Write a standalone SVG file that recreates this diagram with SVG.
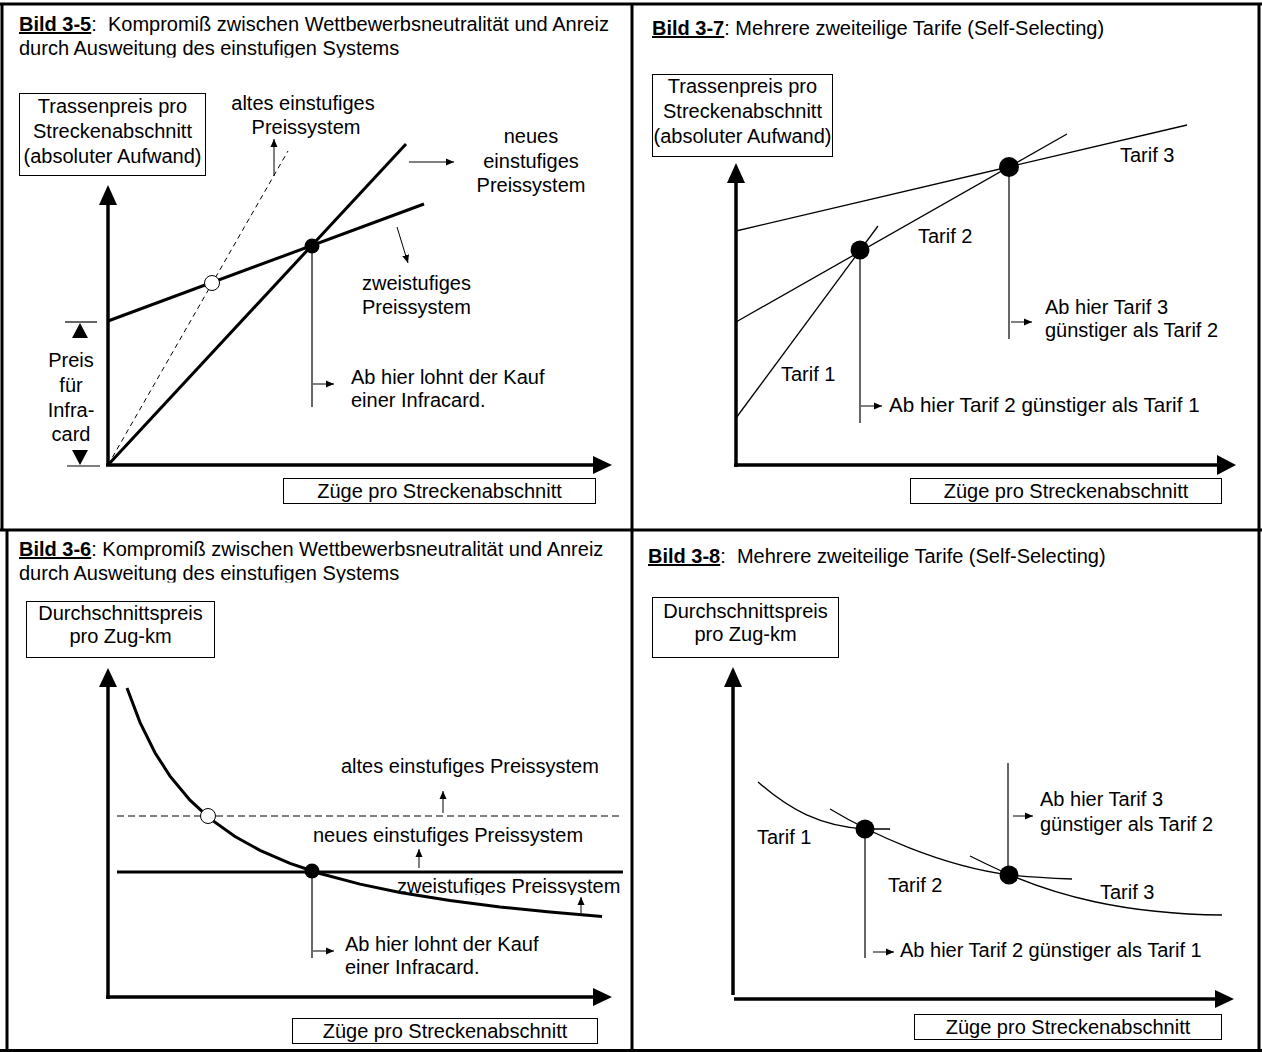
<svg xmlns="http://www.w3.org/2000/svg" width="1262" height="1052" viewBox="0 0 1262 1052">
<style>
.t{font-family:"Liberation Sans",Arial,sans-serif;font-size:20px;fill:#000;white-space:pre}
.c{text-anchor:middle}
.b{font-weight:bold;text-decoration:underline}
.frame{stroke:#000;stroke-width:3;fill:none}
.box{fill:#fff;stroke:#000;stroke-width:1}
.axis{stroke:#000;stroke-width:3.5;fill:none}
.thick{stroke:#000;stroke-width:3;fill:none}
.thin{stroke:#000;stroke-width:1.3;fill:none}
.lead{stroke:#000;stroke-width:1.2;fill:none}
.ptr{stroke:#000;stroke-width:1;fill:none;marker-end:url(#sa)}
.dash{stroke:#000;stroke-width:1;stroke-dasharray:5 4;fill:none}
.gdash{stroke:#555;stroke-width:1.4;stroke-dasharray:7 4;fill:none}
.dot{fill:#000}
.odot{fill:#fff;stroke:#000;stroke-width:1}
</style>
<defs>
<marker id="sa" markerUnits="userSpaceOnUse" markerWidth="9" markerHeight="8" refX="8" refY="4" orient="auto">
<path d="M0,0.5 L8,4 L0,7.5 z" fill="#000"/>
</marker>
<clipPath id="cl1"><rect x="0" y="0" width="632" height="57.5"/></clipPath>
<clipPath id="cl3"><rect x="0" y="530" width="632" height="52.5"/></clipPath>
<clipPath id="cl3b"><rect x="300" y="860" width="330" height="35"/></clipPath>
</defs>
<rect width="1262" height="1052" fill="#fff"/>

<g id="frame">
<line class="frame" x1="0" y1="4" x2="1262" y2="4"/>
<line class="frame" x1="2" y1="4" x2="2" y2="530"/>
<line class="frame" x1="632" y1="4" x2="632" y2="1052"/>
<line class="frame" x1="1259" y1="4" x2="1259" y2="1052"/>
<line class="frame" x1="0" y1="530" x2="1262" y2="530"/>
<line class="frame" x1="7" y1="530" x2="7" y2="1052"/>
<line class="frame" x1="0" y1="1050.5" x2="1262" y2="1050.5"/>
</g>

<!-- Panel Bild 3-5 -->
<g id="panel-3-5">
<g id="title-3-5" clip-path="url(#cl1)">
<text class="t" x="19" y="31"><tspan class="b">Bild 3-5</tspan>:  Kompromiß zwischen Wettbewerbsneutralität und Anreiz</text>
<text class="t" x="19" y="55">durch Ausweitung des einstufigen Systems</text>
</g>
<g id="ylabel-3-5">
<rect class="box" x="19.5" y="93.5" width="186" height="82"/>
<text class="t c" x="112.5" y="113">Trassenpreis pro</text>
<text class="t c" x="112.5" y="138">Streckenabschnitt</text>
<text class="t c" x="112.5" y="163">(absoluter Aufwand)</text>
</g>
<g id="axes-3-5">
<line class="axis" x1="108" y1="466" x2="108" y2="200"/>
<polygon points="108,185 99,205 117,205"/>
<line class="axis" x1="106" y1="465" x2="595" y2="465"/>
<polygon points="612,465 593,456 593,474"/>
</g>
<g id="xlabel-3-5">
<rect class="box" x="283.5" y="478.5" width="312" height="25"/>
<text class="t c" x="439.5" y="498">Züge pro Streckenabschnitt</text>
</g>
<g id="curves-3-5">
<line class="dash" x1="108" y1="465" x2="288" y2="151"/>
<line class="thick" x1="108" y1="465" x2="406" y2="144"/>
<line class="thick" x1="108" y1="321" x2="424" y2="204"/>
<line class="lead" x1="312" y1="246" x2="312" y2="407"/>
<circle class="odot" cx="212" cy="283" r="7.5"/>
<circle class="dot" cx="312" cy="246" r="7.5"/>
</g>
<g id="bracket-3-5">
<line class="lead" x1="65" y1="322" x2="97" y2="322"/>
<polygon points="80,323 72,338 88,338"/>
<line class="lead" x1="67" y1="466" x2="100" y2="466"/>
<polygon points="80,465 72,450 88,450"/>
<text class="t c" x="71" y="367">Preis</text>
<text class="t c" x="71" y="392">für</text>
<text class="t c" x="71" y="417">Infra-</text>
<text class="t c" x="71" y="441">card</text>
</g>
<g id="labels-3-5">
<text class="t c" x="303" y="110">altes einstufiges</text>
<text class="t c" x="306" y="134">Preissystem</text>
<text class="t c" x="531" y="143">neues</text>
<text class="t c" x="531" y="168">einstufiges</text>
<text class="t c" x="531" y="192">Preissystem</text>
<text class="t" x="362" y="290">zweistufiges</text>
<text class="t" x="362" y="314">Preissystem</text>
<text class="t" x="351" y="384">Ab hier lohnt der Kauf</text>
<text class="t" x="351" y="407">einer Infracard.</text>
</g>
</g>

<!-- Panel Bild 3-7 -->
<g id="panel-3-7">
<g id="title-3-7">
<text class="t" x="652" y="35"><tspan class="b">Bild 3-7</tspan>: Mehrere zweiteilige Tarife (Self-Selecting)</text>
</g>
<g id="ylabel-3-7">
<rect class="box" x="652.5" y="74.5" width="180" height="82"/>
<text class="t c" x="742.5" y="93">Trassenpreis pro</text>
<text class="t c" x="742.5" y="118">Streckenabschnitt</text>
<text class="t c" x="742.5" y="143">(absoluter Aufwand)</text>
</g>
<g id="axes-3-7">
<line class="axis" x1="736" y1="467" x2="736" y2="180"/>
<polygon points="736,163 727,183 745,183"/>
<line class="axis" x1="734" y1="465" x2="1218" y2="465"/>
<polygon points="1236,465 1217,455 1217,475"/>
</g>
<g id="xlabel-3-7">
<rect class="box" x="910.5" y="478.5" width="311" height="25"/>
<text class="t c" x="1066" y="498">Züge pro Streckenabschnitt</text>
</g>
<g id="curves-3-7">
<line class="thin" x1="736" y1="231" x2="1187" y2="125"/>
<line class="thin" x1="736" y1="322" x2="1067" y2="134"/>
<line class="thin" x1="736" y1="418" x2="878" y2="226"/>
<line class="lead" x1="860" y1="250" x2="860" y2="423"/>
<line class="lead" x1="1009" y1="167" x2="1009" y2="339"/>
<circle class="dot" cx="860" cy="250" r="9.5"/>
<circle class="dot" cx="1009" cy="167" r="10"/>
</g>
<g id="labels-3-7">
<text class="t" x="781" y="381">Tarif 1</text>
<text class="t" x="918" y="243">Tarif 2</text>
<text class="t" x="1120" y="162">Tarif 3</text>
<text class="t" x="1045" y="314">Ab hier Tarif 3</text>
<text class="t" x="1045" y="337">günstiger als Tarif 2</text>
<text class="t" x="889" y="412" style="font-size:20.6px">Ab hier Tarif 2 günstiger als Tarif 1</text>
</g>
</g>

<!-- Panel Bild 3-6 -->
<g id="panel-3-6">
<g id="title-3-6" clip-path="url(#cl3)">
<text class="t" x="19" y="556"><tspan class="b">Bild 3-6</tspan>: Kompromiß zwischen Wettbewerbsneutralität und Anreiz</text>
<text class="t" x="19" y="580">durch Ausweitung des einstufigen Systems</text>
</g>
<g id="ylabel-3-6">
<rect class="box" x="26.5" y="601.5" width="188" height="56"/>
<text class="t c" x="120.5" y="620">Durchschnittspreis</text>
<text class="t c" x="120.5" y="643">pro Zug-km</text>
</g>
<g id="axes-3-6">
<line class="axis" x1="108" y1="999" x2="108" y2="684"/>
<polygon points="108,668 99,687 117,687"/>
<line class="axis" x1="106" y1="997" x2="595" y2="997"/>
<polygon points="612,997 593,988 593,1006"/>
</g>
<g id="xlabel-3-6">
<rect class="box" x="292.5" y="1018.5" width="305" height="25"/>
<text class="t c" x="445" y="1038">Züge pro Streckenabschnitt</text>
</g>
<g id="curves-3-6">
<line class="gdash" x1="117" y1="816" x2="622" y2="816"/>
<line class="thick" x1="117" y1="872" x2="623" y2="872"/>
<polyline class="thick" stroke-width="2.6" points="127,688 140,722.4 155,752.7 170,776.1 190,800.1 210,818.6 235,836.5 260,850.3 290,863.3 320,873.5 360,884.1 400,892.5 450,900.6 500,907 550,912.1 602,916.4"/>
<line class="lead" x1="312" y1="872" x2="312" y2="958"/>
<circle class="odot" cx="208" cy="816" r="7.5"/>
<circle class="dot" cx="312" cy="871" r="7.5"/>
</g>
<g id="labels-3-6">
<text class="t" x="341" y="773">altes einstufiges Preissystem</text>
<text class="t" x="313" y="842">neues einstufiges Preissystem</text>
<g clip-path="url(#cl3b)"><text class="t" x="397" y="893">zweistufiges Preissystem</text></g>
<text class="t" x="345" y="951">Ab hier lohnt der Kauf</text>
<text class="t" x="345" y="974">einer Infracard.</text>
</g>
</g>

<!-- Panel Bild 3-8 -->
<g id="panel-3-8">
<g id="title-3-8">
<text class="t" x="648" y="563"><tspan class="b">Bild 3-8</tspan>:  Mehrere zweiteilige Tarife (Self-Selecting)</text>
</g>
<g id="ylabel-3-8">
<rect class="box" x="652.5" y="597.5" width="186" height="60"/>
<text class="t c" x="745.5" y="618">Durchschnittspreis</text>
<text class="t c" x="745.5" y="641">pro Zug-km</text>
</g>
<g id="axes-3-8">
<line class="axis" x1="733" y1="995" x2="733" y2="684"/>
<polygon points="733,667 724,687 742,687"/>
<line class="axis" x1="734" y1="999" x2="1216" y2="999"/>
<polygon points="1234,999 1215,990 1215,1008"/>
</g>
<g id="xlabel-3-8">
<rect class="box" x="914.5" y="1014.5" width="307" height="25"/>
<text class="t c" x="1068" y="1034">Züge pro Streckenabschnitt</text>
</g>
<g id="curves-3-8">
<path class="thin" d="M758,782 C790,810 820,826 865,829 L890,829"/>
<path class="thin" d="M830,809 C870,833 940,866 1010,875 C1030,877 1050,878 1072,879"/>
<path class="thin" d="M970,856 Q990,866 1010,875 C1055,894 1120,914 1222,915"/>
<line class="lead" x1="865" y1="829" x2="865" y2="958"/>
<line class="lead" x1="1008" y1="763" x2="1008" y2="875"/>
<circle class="dot" cx="865" cy="829" r="9.5"/>
<circle class="dot" cx="1009" cy="875" r="9.5"/>
</g>
<g id="labels-3-8">
<text class="t" x="757" y="844">Tarif 1</text>
<text class="t" x="888" y="892">Tarif 2</text>
<text class="t" x="1100" y="899">Tarif 3</text>
<text class="t" x="1040" y="806">Ab hier Tarif 3</text>
<text class="t" x="1040" y="831">günstiger als Tarif 2</text>
<text class="t" x="900" y="957">Ab hier Tarif 2 günstiger als Tarif 1</text>
</g>
</g>

<g id="connectors">
<line class="ptr" x1="274" y1="176" x2="274" y2="139"/>
<line class="ptr" x1="409" y1="162" x2="454" y2="162"/>
<line class="ptr" x1="397" y1="227" x2="408" y2="263"/>
<line class="ptr" x1="313" y1="384" x2="334" y2="384"/>
<line class="ptr" x1="861" y1="406" x2="882" y2="406"/>
<line class="ptr" x1="1011" y1="322" x2="1032" y2="322"/>
<line class="ptr" x1="443" y1="813" x2="443" y2="791"/>
<line class="ptr" x1="419" y1="868" x2="419" y2="849"/>
<line class="ptr" x1="581" y1="913" x2="581" y2="897"/>
<line class="ptr" x1="313" y1="951" x2="334" y2="951"/>
<line class="ptr" x1="873" y1="952" x2="894" y2="952"/>
<line class="ptr" x1="1013" y1="816" x2="1033" y2="816"/>
</g>
</svg>
